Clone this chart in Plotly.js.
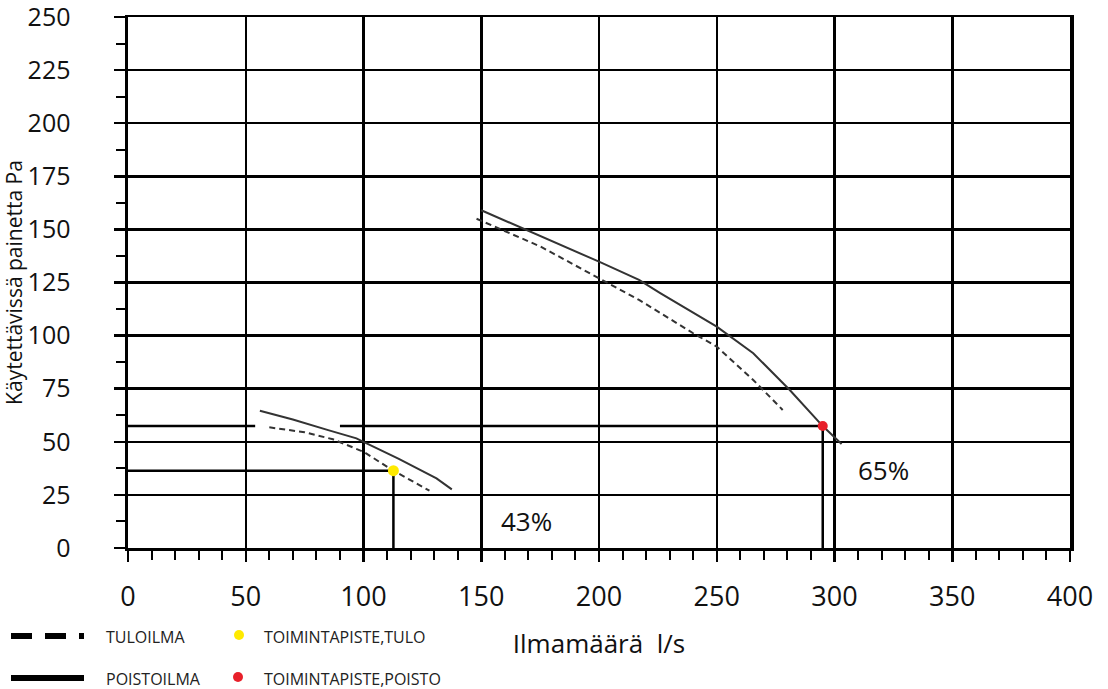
<!DOCTYPE html>
<html>
<head>
<meta charset="utf-8">
<script src="https://cdn.plot.ly/plotly-3.0.1.min.js"></script>
<style>html,body{margin:0;padding:0;background:#fff;}#chart{width:1108px;height:689px;}</style>
</head>
<body>
<div id="chart"></div>
<script>
// ---- data ----
const poistoLowX = [56, 70, 85, 97, 100, 115, 131, 137.5];
const poistoLowY = [64.6, 60.5, 55.5, 51.6, 50.0, 42, 32.8, 27.6];
const tuloLowX = [60, 75, 87, 100, 112.7, 122, 128];
const tuloLowY = [56.8, 54.5, 51.2, 45.3, 36.4, 30.5, 27.0];
const poistoHighX = [150, 175, 200, 217, 226, 250, 265.5, 281, 295, 303];
const poistoHighY = [159, 147, 134.8, 126.2, 120, 104.2, 91.7, 74.4, 57.4, 49];
const tuloHighX = [148, 175, 200, 217, 240, 250, 265.5, 278];
const tuloHighY = [155, 142, 127, 116.8, 101.1, 94.8, 79.1, 65];
const pointTulo = {x: 112.7, y: 36.4};
const pointPoisto = {x: 295, y: 57.4};
const refPoistoX = [0, 54, null, 90, 295];
const refPoistoY = [57.4, 57.4, null, 57.4, 57.4];
const efficiencyLabels = ["43%", "65%"];
const efficiencyX = [169, 321];
const efficiencyY = [12.7, 36.7];
const legendNames = ["TULOILMA", "POISTOILMA", "TOIMINTAPISTE,TULO", "TOIMINTAPISTE,POISTO"];
const xTicks = [0, 50, 100, 150, 200, 250, 300, 350, 400];
const yTicks = [0, 25, 50, 75, 100, 125, 150, 175, 200, 225, 250];

const FONT = "Open Sans, Noto Sans, DejaVu Sans, sans-serif";
const curveColor = "#333333";
const refColor = "#000000";

const traces = [
  {x: [0, pointTulo.x, null, pointTulo.x, pointTulo.x], y: [pointTulo.y, pointTulo.y, null, pointTulo.y, 0],
   mode: "lines", line: {color: refColor, width: 2.5}, hoverinfo: "skip", showlegend: false},
  {x: refPoistoX, y: refPoistoY, mode: "lines", line: {color: refColor, width: 2.5}, hoverinfo: "skip", showlegend: false},
  {x: [pointPoisto.x, pointPoisto.x], y: [pointPoisto.y, 0], mode: "lines", line: {color: refColor, width: 2.5}, hoverinfo: "skip", showlegend: false},
  {x: poistoLowX, y: poistoLowY, mode: "lines", name: legendNames[1], line: {color: curveColor, width: 2}, showlegend: false},
  {x: tuloLowX, y: tuloLowY, mode: "lines", name: legendNames[0], line: {color: curveColor, width: 2, dash: "6px,4px"}, showlegend: false},
  {x: poistoHighX, y: poistoHighY, mode: "lines", name: legendNames[1], line: {color: curveColor, width: 2}, showlegend: false},
  {x: tuloHighX, y: tuloHighY, mode: "lines", name: legendNames[0], line: {color: curveColor, width: 2, dash: "6px,4px"}, showlegend: false},
  {x: [pointTulo.x], y: [pointTulo.y], mode: "markers", name: legendNames[2], marker: {color: "#FFEA00", size: 11}, showlegend: false},
  {x: [pointPoisto.x], y: [pointPoisto.y], mode: "markers", name: legendNames[3], marker: {color: "#E8202A", size: 10}, showlegend: false}
];

function px2paperX(px) { return (px - 128) / 942; }
function px2paperY(py) { return (548 - py) / 531; }

const shapes = [
  {type: "line", xref: "paper", yref: "paper", x0: px2paperX(11), x1: px2paperX(84), y0: px2paperY(636), y1: px2paperY(636),
   line: {color: "#000", width: 6, dash: "21px,13px"}},
  {type: "line", xref: "paper", yref: "paper", x0: px2paperX(11), x1: px2paperX(84), y0: px2paperY(678), y1: px2paperY(678),
   line: {color: "#000", width: 6}},
  {type: "circle", xref: "paper", yref: "paper", xsizemode: "pixel", ysizemode: "pixel",
   xanchor: px2paperX(239), yanchor: px2paperY(635), x0: -5, x1: 5, y0: -5, y1: 5,
   fillcolor: "#FFEA00", line: {width: 0}},
  {type: "circle", xref: "paper", yref: "paper", xsizemode: "pixel", ysizemode: "pixel",
   xanchor: px2paperX(238), yanchor: px2paperY(677), x0: -5, x1: 5, y0: -5, y1: 5,
   fillcolor: "#E8202A", line: {width: 0}}
];

const annotations = [];
for (let i = 0; i < efficiencyLabels.length; i++) {
  annotations.push({x: efficiencyX[i], y: efficiencyY[i], xref: "x", yref: "y", text: efficiencyLabels[i],
    showarrow: false, font: {family: FONT, size: 26, color: "#111"}});
}
const legPos = [[104, 637], [104, 679], [262, 637], [262, 679]];
for (let i = 0; i < legendNames.length; i++) {
  annotations.push({x: px2paperX(legPos[i][0]), y: px2paperY(legPos[i][1]), xref: "paper", yref: "paper",
    xanchor: "left", yanchor: "middle", text: legendNames[i], showarrow: false,
    font: {family: FONT, size: 16, color: "#222"}});
}

const layout = {
  width: 1108, height: 689,
  margin: {l: 128, r: 38, t: 17, b: 141},
  paper_bgcolor: "#fff", plot_bgcolor: "#fff",
  font: {family: FONT, color: "#111"},
  showlegend: false,
  xaxis: {
    range: [0, 400], tickvals: xTicks, ticktext: xTicks.map(String),
    showgrid: true, gridcolor: "#000", gridwidth: 2.5,
    showline: true, linecolor: "#000", linewidth: 2.5, mirror: true,
    ticks: "outside", ticklen: 11, tickwidth: 2.5, tickcolor: "#000",
    minor: {dtick: 10, tick0: 0, ticks: "outside", ticklen: 9, tickwidth: 2, tickcolor: "#000", showgrid: false},
    tickfont: {family: FONT, size: 27, color: "#111"},
    ticklabelstandoff: 12, ticklabeloverflow: "allow",
    zeroline: false, fixedrange: true,
    title: {text: "Ilmamäärä  l/s", font: {family: FONT, size: 26, color: "#111"}, standoff: 22}
  },
  yaxis: {
    range: [0, 250], tickvals: yTicks, ticktext: yTicks.map(String),
    showgrid: true, gridcolor: "#000", gridwidth: 2.5,
    showline: true, linecolor: "#000", linewidth: 3.5, mirror: true,
    ticks: "outside", ticklen: 11, tickwidth: 2.5, tickcolor: "#000",
    minor: {dtick: 12.5, tick0: 0, ticks: "outside", ticklen: 9, tickwidth: 2, tickcolor: "#000", showgrid: false},
    tickfont: {family: FONT, size: 25, color: "#111"},
    ticklabelstandoff: 38, ticklabeloverflow: "allow",
    zeroline: false, fixedrange: true,
    title: {text: "Käytettävissä painetta Pa", font: {family: FONT, size: 21, color: "#111"}, standoff: 11}
  },
  shapes: shapes,
  annotations: annotations
};

Plotly.newPlot("chart", traces, layout, {staticPlot: true, displayModeBar: false});
</script>
</body>
</html>
